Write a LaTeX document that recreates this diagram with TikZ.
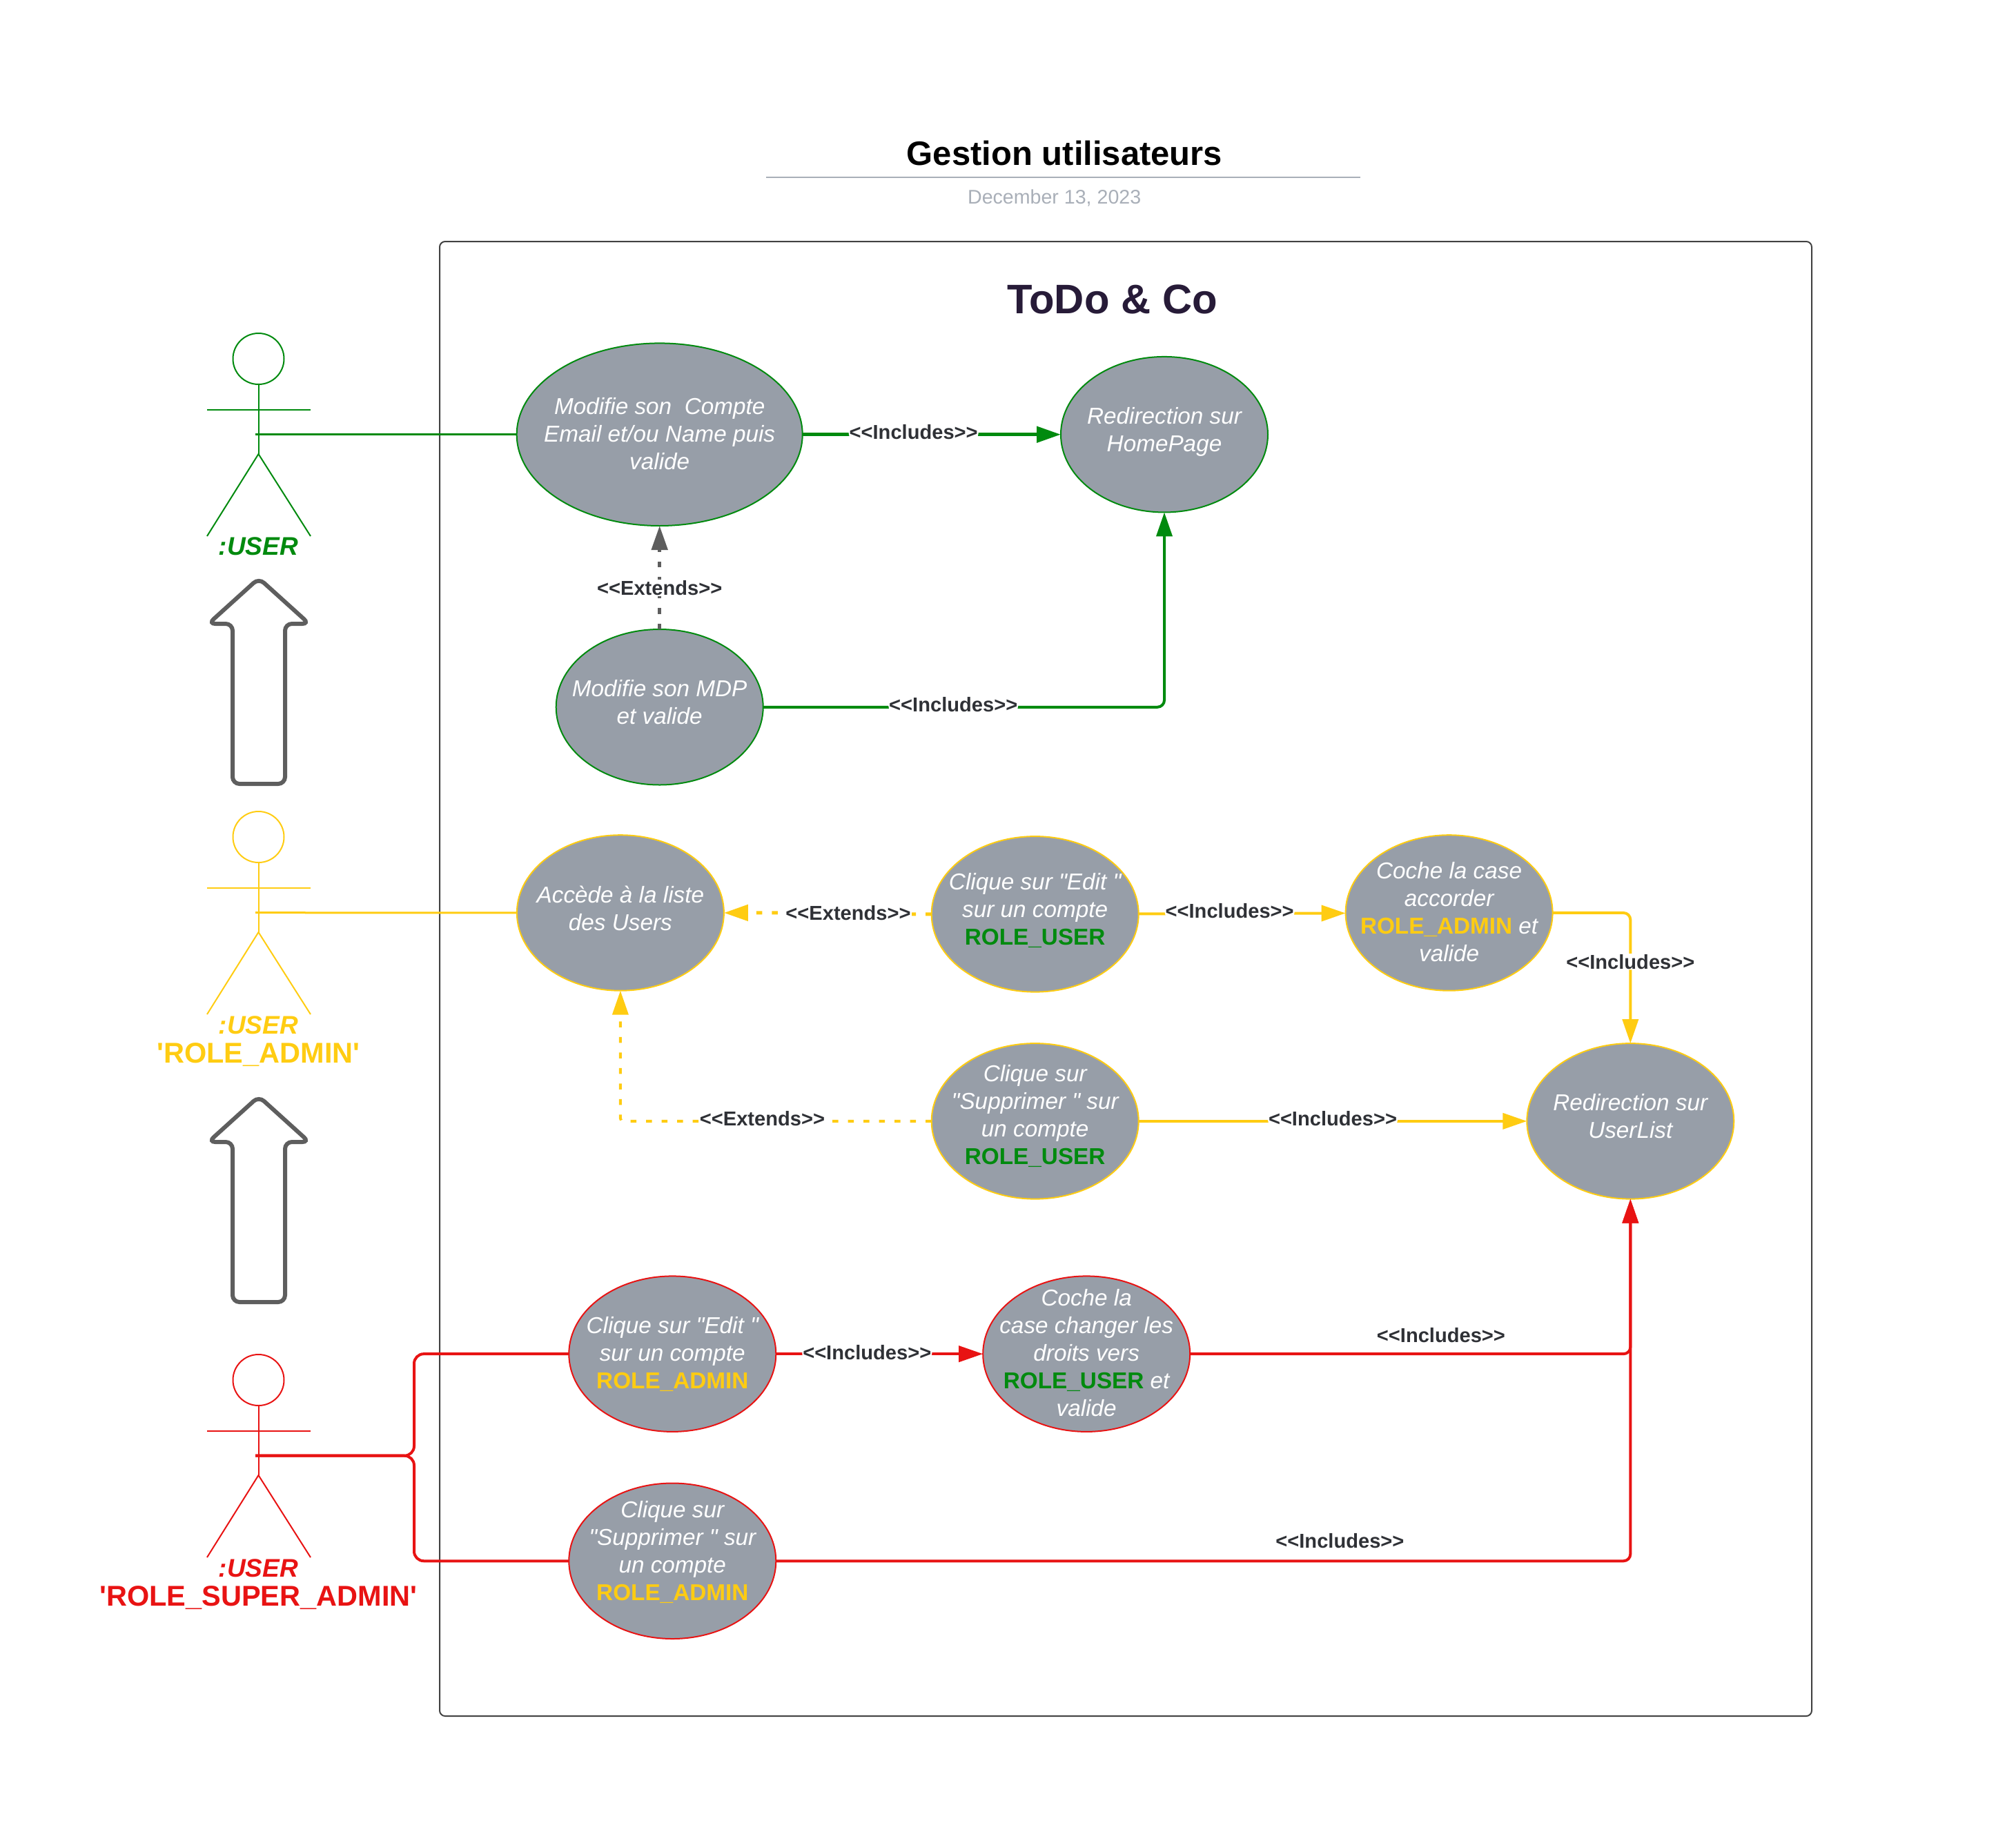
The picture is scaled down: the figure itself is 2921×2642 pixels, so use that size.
\documentclass[tikz,border=0pt]{standalone}
\usepackage{fontspec}
\setmainfont{Liberation Sans}[Ligatures=TeXOff]
\usetikzlibrary{positioning,shapes.geometric,arrows.meta}
\definecolor{userGreen}{HTML}{008A0E}
\definecolor{adminYellow}{HTML}{FFCC12}
\definecolor{superRed}{HTML}{E81313}
\definecolor{caseGray}{HTML}{979EA8}
\definecolor{noteGray}{HTML}{A9AFB8}
\definecolor{arrowGray}{HTML}{5E5E5E}
\definecolor{labelInk}{HTML}{2F3136}
\definecolor{titleInk}{HTML}{271B38}
\newcommand{\roleAdmin}{\textup{\textbf{\textcolor{adminYellow}{ROLE\_ADMIN}}}}
\newcommand{\roleUser}{\textup{\textbf{\textcolor{userGreen}{ROLE\_USER}}}}

\begin{document}
\begin{tikzpicture}[
        x=1pt, y=-1pt,
        >={Triangle[length=35pt,width=23pt]},
        usecase/.style={
            ellipse, line width=2pt, fill = caseGray, text = white, align = center, inner sep = -60pt, outer sep = 0pt,
            minimum width = 300pt, minimum height = 225.5pt,
            font = \fontsize{33.3}{40}\selectfont\itshape
        },
        flowlabel/.style={
            fill = white, inner sep = 1pt, text = labelInk,
            font = \fontsize{29.1}{35}\selectfont\bfseries
        },
        actorname/.style={
            align = center, inner sep = 0pt,
            font = \fontsize{41.5}{41.5}\selectfont\bfseries
        },
        actorhead/.style={
            circle, line width=2pt, minimum size = 74pt, inner sep = 0pt
        },
        flow/.style={line width=4pt, rounded corners=10pt},
        extends/.style={line width=5pt, dash pattern=on 8.5pt off 14pt},
    ]
    \useasboundingbox (0,0) rectangle (2921,2642);

    \node (diagramTitle) [inner sep=0pt, font=\fontsize{49}{50}\selectfont\bfseries] at (1542.5,221.7) {Gestion utilisateurs};
    \coordinate (ruleStart) at (1110,257);
    \coordinate (ruleEnd) at (1971,257);
    \draw[noteGray, line width=2.5pt] (ruleStart) -- (ruleEnd);
    \node (diagramDate) [inner sep=0pt, text=noteGray, font=\fontsize{28.6}{30}\selectfont] at (1527.7,287) {December 13, 2023};

    \node (systemBox) [draw = arrowGray!70!black, line width=2pt, rounded corners=8pt, minimum width=1988pt, minimum height=2137pt, inner sep=0pt] at (1631,1418.5) {};
    \node (systemTitle) [inner sep=0pt, text=titleInk, font=\fontsize{59.8}{60}\selectfont\bfseries] at (1611.5,434) {ToDo \& Co};

    % the three actors
    \foreach \actorName/\actorColor/\actorY in {user/userGreen/520, admin/adminYellow/1213, super/superRed/2000} {
        \node (\actorName Head) [actorhead, draw = \actorColor] at (374.5,\actorY) {};
        \coordinate (\actorName Hand) at (370,\actorY+109.7);
        \coordinate (\actorName Hip) at (374.5,\actorY+138);
        \draw[\actorColor, line width=2pt] (\actorName Head) -- (\actorName Hip);
        \draw[\actorColor, line width=2pt] (300,\actorY+74) -- (450,\actorY+74);
        \draw[\actorColor, line width=2pt] (300,\actorY+257) -- (\actorName Hip) -- (450,\actorY+257);
    }
    \node (userName) [actorname, text=userGreen, font=\fontsize{37}{37}\selectfont\bfseries\itshape] at (374.5,792) {:USER};
    \node (adminName) [actorname, text=adminYellow] at (374.5,1509) {\textit{\fontsize{37}{37}\selectfont :USER} \\[0pt] 'ROLE\_ADMIN'};
    \node (superName) [actorname, text=superRed] at (374.5,2296) {\textit{\fontsize{37}{37}\selectfont :USER} \\[0pt] 'ROLE\_SUPER\_ADMIN'};

    % promotion arrows
    \foreach \arrowY in {838,1589} {
        \draw[arrowGray, line width=6pt, rounded corners=10pt] (375,\arrowY) -- ++(73,66) -- ++(-35,0) -- ++(0,232) -- ++(-76,0) -- ++(0,-232) -- ++(-35,0) -- cycle;
    }

    % user cases
    \node (modifyAccount) [usecase, draw=userGreen, minimum width=414pt, minimum height=264.6pt] at (955.7,629.7) {Modifie son\ \ Compte \\ Email et/ou Name puis \\ valide \\[-37pt] \mbox{}};
    \node (homePage) [usecase, draw=userGreen, right=374.3pt of modifyAccount] {Redirection sur \\ HomePage \\[-26pt] \mbox{}};
    \node (modifyPassword) [usecase, draw=userGreen, below=150pt of modifyAccount] {Modifie son MDP \\ et valide \\[-26pt] \mbox{}};
    \path (modifyPassword) edge[->, extends, arrowGray] node[flowlabel, pos=0.40] {<<Extends>>} (modifyAccount);
    \path (modifyAccount) edge[->, flow, line width=5pt, userGreen] node[flowlabel, pos=0.43, yshift=3.7pt] {<<Includes>>} (homePage);
    \draw[->, flow, userGreen] (modifyPassword) -| node[flowlabel, pos=0.237, yshift=3.7pt] {<<Includes>>} (homePage);
    \path (userHand) edge[flow, line width=3pt, userGreen] (modifyAccount);

    % admin cases
    \node (userListAccess) [usecase, draw=adminYellow, below=72.7pt of modifyPassword, xshift=-56.8pt] {Accède à la liste \\ des Users \\[-26pt] \mbox{}};
    \node (editUser) [usecase, draw=adminYellow, right=300.8pt of userListAccess, yshift=-1.9pt] {Clique sur "Edit " \\ sur un compte \\ \roleUser \\[-25pt] \mbox{}};
    \node (grantAdmin) [usecase, draw=adminYellow, right=299.9pt of editUser, yshift=1.9pt] {Coche la case \\ accorder \\ \roleAdmin{} et \\ valide \\[-36pt] \mbox{}};
    \node (deleteUser) [usecase, draw=adminYellow, below=74.5pt of editUser] {Clique sur \\ "Supprimer " sur \\ un compte \\ \roleUser \\[-22pt] \mbox{}};
    \node (userList) [usecase, draw=adminYellow, right=562.6pt of deleteUser] {Redirection sur \\ UserList \\[-26pt] \mbox{}};
    \coordinate (extendsStep) at (1229,1322.7);
    \draw[->, extends, adminYellow] (editUser.west) -- (extendsStep |- editUser.west) -- (extendsStep) -- (userListAccess.east);
    \node (editExtends) [flowlabel] at (extendsStep) {<<Extends>>};
    \path (editUser) edge[->, flow, adminYellow] node[flowlabel, pos=0.44, yshift=3.7pt] {<<Includes>>} (grantAdmin);
    \draw[->, flow, adminYellow] (grantAdmin) -| node[flowlabel, pos=0.687] {<<Includes>>} (userList);
    \draw[->, extends, line width=4pt, rounded corners=4pt, adminYellow] (deleteUser) -| node[flowlabel, pos=0.272, yshift=3.7pt] {<<Extends>>} (userListAccess);
    \path (deleteUser) edge[->, flow, adminYellow] node[flowlabel, pos=0.5, yshift=3.7pt] {<<Includes>>} (userList);
    \path (adminHand) edge[flow, line width=3pt, adminYellow] (userListAccess);

    % super admin cases
    \node (changeRights) [usecase, draw=superRed, below=111.8pt of deleteUser, xshift=74.5pt] {Coche la \\ case changer les \\ droits vers \\ \roleUser{} et \\ valide \\[-36pt] \mbox{}};
    \node (editAdmin) [usecase, draw=superRed, left=299.9pt of changeRights] {Clique sur "Edit " \\ sur un compte \\ \roleAdmin};
    \node (deleteAdmin) [usecase, draw=superRed, below=74.6pt of editAdmin] {Clique sur \\ "Supprimer " sur \\ un compte \\ \roleAdmin \\[-10pt] \mbox{}};
    \path (editAdmin) edge[->, flow, superRed] node[flowlabel, pos=0.44, yshift=2pt] {<<Includes>>} (changeRights);
    \draw[->, flow, superRed] (changeRights) -| node[flowlabel, fill=none, pos=0.285, above=13pt] {<<Includes>>} (userList);
    \draw[->, flow, superRed] (deleteAdmin) -| node[flowlabel, fill=none, pos=0.33, above=15pt] {<<Includes>>} (userList);
    \coordinate (superFork) at (600,2000+109.7);
    \draw[flow, superRed, rounded corners=14pt] (superHand) -- (superFork) |- (editAdmin);
    \draw[flow, superRed, rounded corners=14pt] (superHand) -- (superFork) |- (deleteAdmin);

\end{tikzpicture}
\end{document}
